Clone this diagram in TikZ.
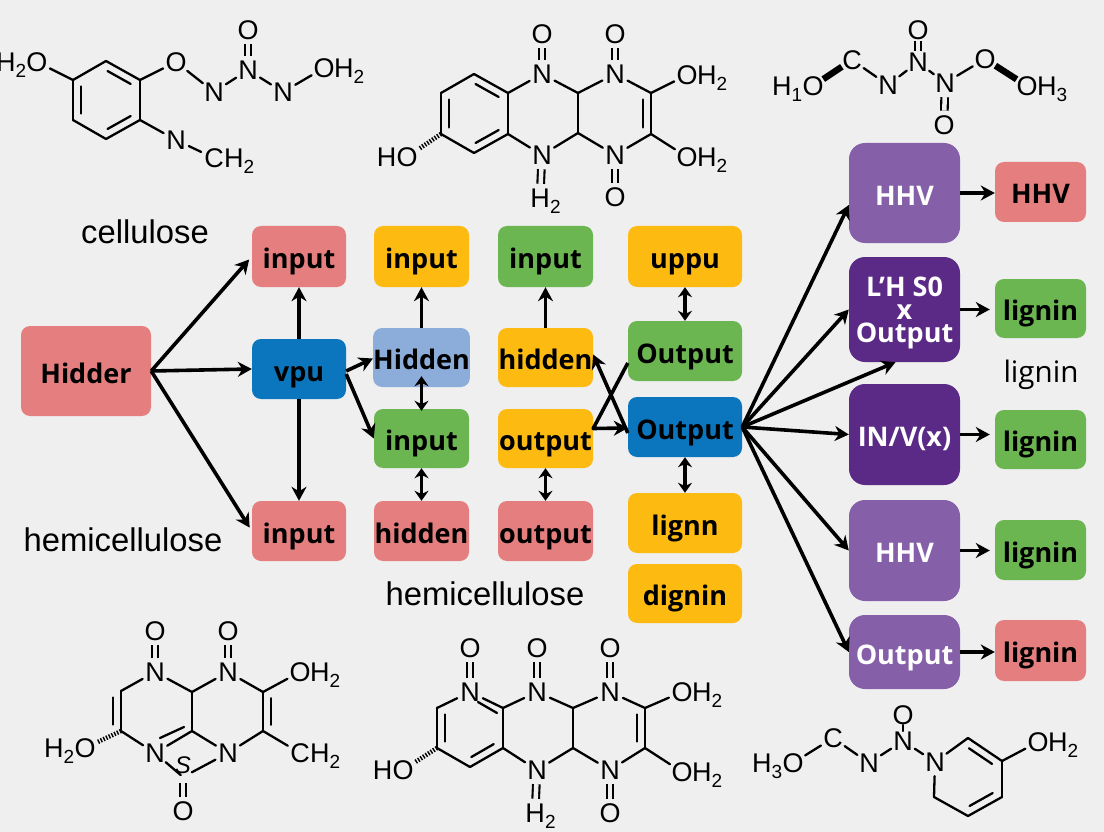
\documentclass[tikz,border=0pt]{standalone}
\usepackage{fontspec}
\setmainfont{Liberation Sans}
\newfontfamily\boxfont{Open Sans}
\usetikzlibrary{arrows.meta,calc}
\definecolor{bg}{HTML}{EFEFEF}
\definecolor{cpink}{HTML}{E57F7F}
\definecolor{cgreen}{HTML}{6CB652}
\definecolor{cyellow}{HTML}{FDBB12}
\definecolor{cblue}{HTML}{0B76BE}
\definecolor{clblue}{HTML}{8CADD9}
\definecolor{cplight}{HTML}{8560A8}
\definecolor{cpdark}{HTML}{5A2A86}
\tikzset{
  bx/.style={rounded corners=9pt,inner sep=0pt,text=black,align=center,
    text height=24pt,text depth=0pt,
    font=\boxfont\bfseries\fontsize{27}{23}\selectfont},
  pk/.style={bx,fill=cpink},
  gn/.style={bx,fill=cgreen},
  yl/.style={bx,fill=cyellow},
  bl/.style={bx,fill=cblue},
  lb/.style={bx,fill=clblue},
  pl/.style={bx,fill=cplight,text=white,rounded corners=16pt},
  pd/.style={bx,fill=cpdark,text=white,rounded corners=16pt},
  flow/.style={line width=3.6pt,-{Stealth[length=14pt,width=15pt]}},
  flow2/.style={line width=3.6pt,{Stealth[length=10pt,width=14pt]}-{Stealth[length=10pt,width=14pt]}},
  atom/.style={circle,minimum size=28pt,inner sep=0pt,font=\fontsize{27}{27}\selectfont},
  chem/.style={inner sep=0pt,font=\fontsize{27}{27}\selectfont},
  bond/.style={line width=2.3pt,line cap=round},
  dbond/.style={line width=2.1pt,double=bg,double distance=4.5pt},
  thick bond/.style={line width=6.5pt,shorten <=-2pt,shorten >=-2pt},
  hash/.style={line width=4.5pt,dash pattern=on 1.4pt off 1.6pt},
  lab/.style={inner sep=0pt,font=\fontsize{32.8}{33}\selectfont},
}
\newcommand{\boxnode}[7]{\node[#6,minimum width={(#4-#2)*1pt},minimum height={(#5-#3)*1pt}] (#1) at ({(#2+#4)/2},{(#3+#5)/2}) {#7};}
\newcommand{\chemsub}[1]{\raisebox{-5.5pt}{\fontsize{19}{19}\selectfont #1}}
\newcommand{\atom}[3]{\node[atom] (#1) at (#2) {#3};}
\newcommand{\vx}[2]{\coordinate (#1) at (#2);}
\newcommand{\tailR}[2]{\node[chem,anchor=base west] (#1T) at ([shift={(10pt,-9.7pt)}]#1.center) {#2};}
\newcommand{\tailL}[2]{\node[chem,anchor=base east] (#1T) at ([shift={(-10.5pt,-9.7pt)}]#1.center) {#2};}
\newcommand{\bnd}[1]{\foreach \pa/\pb in {#1} {\draw[bond] (\pa) -- (\pb);}}
\newcommand{\dbl}[1]{\foreach \pa/\pb in {#1} {\draw[dbond] (\pa) -- (\pb);}}
\newcommand{\inb}[3]{\draw[bond] ($(#1)!.16!(#2)!#3pt!90:(#2)$) -- ($(#2)!.16!(#1)!-#3pt!90:(#1)$);}
\begin{document}
\begin{tikzpicture}[x=1pt,y=-1pt]
\fill[bg] (0,0) rectangle (1104,832);
\useasboundingbox (0,0) rectangle (1104,832);

% ---------- flow boxes
\boxnode{hid}{21}{326}{151}{416}{pk}{Hidder}
\boxnode{iA}{252}{226}{346}{287}{pk}{input}
\boxnode{vpu}{252}{339}{346}{399}{bl}{vpu}
\boxnode{iB}{252}{501}{346}{561}{pk}{input}
\boxnode{bA}{374}{226}{469}{287}{yl}{input}
\boxnode{bB}{374}{328}{469}{387}{lb}{Hidden}
\boxnode{bC}{374}{409}{469}{468}{gn}{input}
\boxnode{bD}{374}{501}{469}{561}{pk}{hidden}
\boxnode{cA}{498}{226}{593}{287}{gn}{input}
\boxnode{cB}{498}{328}{593}{387}{yl}{hidden}
\boxnode{cC}{498}{409}{593}{468}{yl}{output}
\boxnode{cD}{498}{501}{593}{561}{pk}{output}
\boxnode{dA}{628}{226}{742}{287}{yl}{uppu}
\boxnode{dB}{628}{321}{742}{381}{gn}{Output}
\boxnode{dC}{628}{397}{742}{457}{bl}{Output}
\boxnode{dD}{628}{493}{742}{553}{yl}{lignn}
\boxnode{dE}{628}{564}{742}{623}{yl}{dignin}
\boxnode{eA}{849}{143}{960}{243}{pl}{HHV}
\boxnode{eB}{849}{257}{960}{362}{pd}{}
\node[bx,text=white,text height=,text depth=] (eBt) at ([yshift=-3pt]eB.center) {L’H S0\\x\\Output};
\boxnode{eC}{849}{384}{960}{485}{pd}{IN/V(x)}
\boxnode{eD}{849}{500}{960}{601}{pl}{HHV}
\boxnode{eE}{849}{615}{960}{689}{pl}{Output}
\boxnode{fA}{995}{162}{1086}{222}{pk}{HHV}
\boxnode{fB}{995}{279}{1086}{338}{gn}{lignin}
\boxnode{fC}{995}{410}{1086}{469}{gn}{lignin}
\boxnode{fD}{995}{520}{1086}{580}{gn}{lignin}
\boxnode{fE}{995}{620}{1086}{681}{pk}{lignin}

% ---------- free labels
\node[lab] (l1) at (145,232) {cellulose};
\node[lab] (l2) at (123,540) {hemicellulose};
\node[lab] (l3) at (485,594) {hemicellulose};
\node[inner sep=0pt,font=\boxfont\fontsize{29.6}{30}\selectfont] (l4) at (1041,375) {lignin};

% ---------- flow connectors
\draw[flow,shorten >=4pt] (hid.east) -- (iA.west);
\draw[flow] (hid.east) -- (vpu.west);
\draw[flow,shorten >=4pt] (hid.east) -- (iB.west);
\draw[flow] (vpu.north) -- (iA.south);
\draw[flow] (vpu.south) -- (iB.north);
\draw[flow] ([yshift=-2pt]vpu.east) -- ([yshift=-1pt]bB.west);
\draw[flow] ([yshift=-5pt]vpu.east) -- (bC.west);
\draw[flow] (bB.north) -- (bA.south);
\draw[flow2,shorten <=-11pt,shorten >=-2pt] (bB.south) -- (bC.north);
\draw[flow2] (bC.south) -- (bD.north);
\draw[flow] (cB.north) -- (cA.south);
\draw[flow2] (cC.south) -- (cD.north);
\draw[flow2] (dA.south) -- (dB.north);
\draw[flow2] (dC.south) -- (dD.north);
\draw[flow] ([yshift=-6pt]dC.west) -- ([yshift=3pt]cB.east);
\draw[flow,line join=round] ([yshift=-12pt]dB.west) -- ([yshift=10pt]cC.east) -- ([yshift=-1pt]dC.west);
\draw[flow] (dC.east) -- ([yshift=-12pt]eA.west);
\draw[flow] (dC.east) -- (eB.west);
\draw[flow] (dC.east) -- ([xshift=-9pt]eB.south);
\draw[flow] (dC.east) -- (eC.west);
\draw[flow] (dC.east) -- (eD.west);
\draw[flow] (dC.east) -- (eE.west);
\draw[flow] (eA.east) -- (eA.east -| fA.west);
\draw[flow] (eB.east) -- ([xshift=-5pt]eB.east -| fB.west);
\draw[flow] (eC.east) -- ([xshift=-5pt]eC.east -| fC.west);
\draw[flow] (eD.east) -- ([xshift=-5pt]eD.east -| fD.west);
\draw[flow] (eE.east) -- (eE.east -| fE.west);

% ---------- molecule 1 (top left)
\vx{a1}{73,80}\vx{a2}{106,61}\vx{a3}{140,80}\vx{a4}{140,120}\vx{a5}{106,139}\vx{a6}{73,120}
\atom{aO}{37,62}{O}\tailL{aO}{H\chemsub{2}}
\atom{aP}{176,62}{O}
\atom{aN}{214,92}{N}
\atom{aQ}{248,70}{N}
\atom{aR}{248,30}{O}
\atom{aS}{283,92}{N}
\atom{aU}{324,68}{O}\tailR{aU}{H\chemsub{2}}
\atom{aV}{176,140}{N}
\atom{aW}{214,158}{C}\tailR{aW}{H\chemsub{2}}
\bnd{aO/a1,a1/a2,a2/a3,a3/a4,a4/a5,a5/a6,a6/a1,a3/aP,aP/aN,aN/aQ,aQ/aS,aS/aU,a4/aV,aV/aW}
\dbl{aQ/aR}
\inb{a6}{a1}{-8}\inb{a2}{a3}{-8}\inb{a4}{a5}{-8}

% ---------- molecule 2 (top centre)
\vx{b1}{441,93}\vx{b2}{474,74}\vx{b3}{508,93}\vx{b4}{508,134}\vx{b5}{474,153}\vx{b6}{441,134}
\vx{b7}{578,93}\vx{b8}{578,133}\vx{b9}{651,93}\vx{b0}{651,134}
\atom{bNa}{542,74}{N}\atom{bOa}{542,34}{O}
\atom{bNb}{615,74}{N}\atom{bOb}{615,34}{O}
\atom{bNc}{542,155}{N}\atom{bHc}{540,198}{H}\tailR{bHc}{\chemsub{2}}
\atom{bNd}{615,155}{N}\atom{bOd}{615,197}{O}
\atom{bOe}{687,75}{O}\tailR{bOe}{H\chemsub{2}}
\atom{bOf}{687,157}{O}\tailR{bOf}{H\chemsub{2}}
\atom{bOg}{407,157}{O}\tailL{bOg}{H}
\bnd{b1/b2,b2/b3,b3/b4,b4/b5,b5/b6,b6/b1,b3/bNa,b4/bNc,bNa/b7,b7/bNb,b7/b8,b8/bNc,b8/bNd,bNb/b9,bNd/b0,b9/b0,b9/bOe,b0/bOf}
\dbl{bNa/bOa,bNb/bOb,bNc/bHc,bNd/bOd}
\inb{b6}{b1}{-8}\inb{b2}{b3}{-8}\inb{b4}{b5}{-8}\inb{b9}{b0}{-8}
\draw[hash] (b6) -- (bOg);

% ---------- molecule 3 (top right)
\atom{cOa}{813,86}{O}\tailL{cOa}{H\chemsub{1}}
\atom{cCa}{852,60}{C}
\atom{cNa}{888,85}{N}
\atom{cNb}{918,62}{N}
\atom{cOb}{918,30}{O}
\atom{cNc}{945,83}{N}
\atom{cOc}{944,125}{O}
\atom{cOd}{985,59}{O}
\atom{cOe}{1027,86}{O}\tailR{cOe}{H\chemsub{3}}
\draw[thick bond] (cOa) -- (cCa);
\draw[thick bond] (cOd) -- (cOe);
\bnd{cCa/cNa,cNa/cNb,cNb/cNc,cNc/cOd}
\draw[dbond,shorten <=-3pt,shorten >=-3pt] (cNb) -- (cOb);
\dbl{cNc/cOc}

% ---------- molecule 4 (bottom left)
\vx{d1}{192,692}\vx{d2}{192,731}\vx{d3}{121,691}\vx{d4}{121,731}\vx{d5}{263,692}\vx{d6}{263,731}\vx{d7}{183,777}
\atom{dNa}{155,672}{N}\atom{dOa}{155,631}{O}
\atom{dNb}{228,672}{N}\atom{dOb}{228,631}{O}
\atom{dNc}{155,753}{N}\atom{dNd}{228,753}{N}
\atom{dOc}{300,672}{O}\tailR{dOc}{H\chemsub{2}}
\atom{dCa}{300,753}{C}\tailR{dCa}{H\chemsub{2}}
\atom{dOd}{85,748}{O}\tailL{dOd}{H\chemsub{2}}
\atom{dOe}{183,811}{O}
\node[chem,font=\itshape\fontsize{24}{24}\selectfont] (dS) at (183,765) {S};
\bnd{dNa/d1,d1/dNb,d1/d2,dNa/d3,d3/d4,d4/dNc,dNc/d2,d2/dNd,dNb/d5,d5/d6,d6/dNd,d5/dOc,d6/dCa}
\draw[bond,shorten >=3pt] (dNc) -- (d7);
\draw[bond,shorten >=10pt] (dNd) -- (d7);
\draw[dbond,shorten <=6pt] (d7) -- (dOe);
\dbl{dNa/dOa,dNb/dOb}
\inb{d3}{d4}{-8}\inb{d5}{d6}{8}
\draw[bond] ($(dNc)+(5,-15)$) -- ($(d2)+(-8,-4)$);
\draw[hash] (d4) -- (dOd);

% ---------- molecule 5 (bottom centre)
\vx{e1}{503,708}\vx{e2}{503,748}\vx{e3}{470,767}\vx{e4}{437,748}\vx{e5}{437,708}
\vx{e6}{573,708}\vx{e7}{573,748}\vx{e8}{645,708}\vx{e9}{645,748}
\atom{eNa}{470,692}{N}\atom{eOa}{470,648}{O}
\atom{eNb}{537,692}{N}\atom{eOb}{537,648}{O}
\atom{eNc}{610,692}{N}\atom{eOc}{610,648}{O}
\atom{eNd}{537,770}{N}\atom{eHd}{535,813}{H}\tailR{eHd}{\chemsub{2}}
\atom{eNe}{610,770}{N}\atom{eOe}{610,813}{O}
\atom{eOf}{682,692}{O}\tailR{eOf}{H\chemsub{2}}
\atom{eOg}{682,772}{O}\tailR{eOg}{H\chemsub{2}}
\atom{eOh}{403,770}{O}\tailL{eOh}{H}
\bnd{eNa/e1,e1/e2,e2/e3,e3/e4,e4/e5,e5/eNa,e1/eNb,e2/eNd,eNb/e6,e6/eNc,e6/e7,e7/eNd,e7/eNe,eNc/e8,eNe/e9,e8/e9,e8/eOf,e9/eOg}
\dbl{eNa/eOa,eNb/eOb,eNc/eOc,eNd/eHd,eNe/eOe}
\inb{e4}{e5}{-8}\inb{e2}{e3}{-8}\inb{e8}{e9}{-8}
\draw[bond] ($(eNa)+(8,10)$) -- ($(e1)+(-6,5)$);
\draw[hash] (e4) -- (eOh);

% ---------- molecule 6 (bottom right)
\vx{f1}{968,738}\vx{f2}{1002,761}\vx{f3}{1002,797}\vx{f4}{968,816}\vx{f5}{934,797}
\atom{fOa}{793,763}{O}\tailL{fOa}{H\chemsub{3}}
\atom{fCa}{833,738}{C}
\atom{fNa}{869,763}{N}
\atom{fNb}{903,741}{N}
\atom{fOb}{903,715}{O}
\atom{fNc}{935,762}{N}
\atom{fOc}{1038,742}{O}\tailR{fOc}{H\chemsub{2}}
\bnd{fOa/fCa,fCa/fNa,fNa/fNb,fNb/fNc,fNc/f1,f1/f2,f2/f3,f3/f4,f4/f5,f5/fNc,f2/fOc}
\draw[bond,shorten <=10pt,shorten >=10pt] (fOb.center) -- (fNb.center);
\inb{f1}{f2}{-8}\inb{f3}{f4}{-8}
\end{tikzpicture}
\end{document}
